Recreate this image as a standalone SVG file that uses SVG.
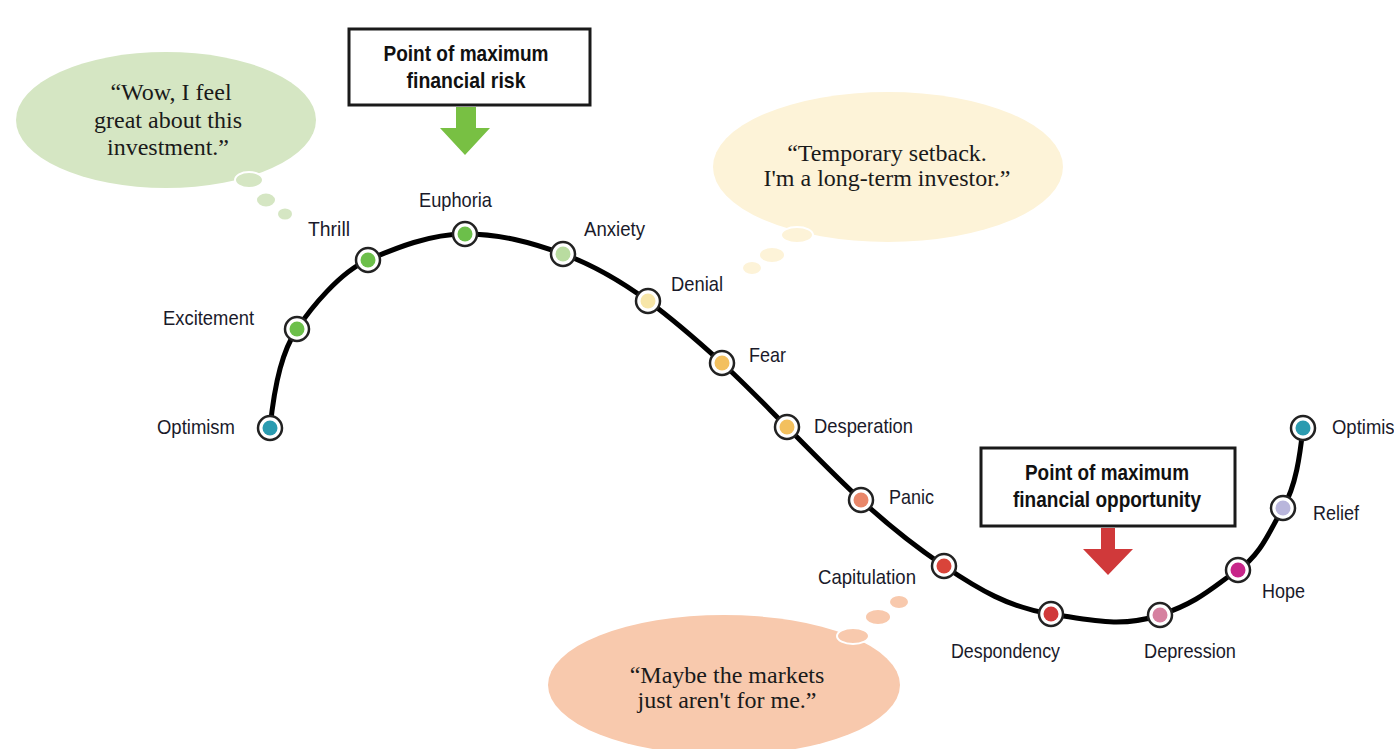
<svg xmlns="http://www.w3.org/2000/svg" width="1394" height="749" viewBox="0 0 1394 749">
<style>
.lbl{font-family:"Liberation Sans",Arial,sans-serif;font-size:21px;fill:#1a1a2a}
.box{fill:#fff;stroke:#1a1a1a;stroke-width:3}
.btx{font-family:"Liberation Sans",Arial,sans-serif;font-size:22px;font-weight:bold;fill:#111;text-anchor:middle}
.q{font-family:"Liberation Serif","Times New Roman",serif;font-size:24px;fill:#1a1a1a;text-anchor:middle}
.ring{fill:#fff;stroke:#222;stroke-width:2.5}
.puff{stroke:#fff;stroke-width:2}
</style>
<rect width="1394" height="749" fill="#fff"/>

<g id="bubble-green">
<ellipse cx="166" cy="120" rx="150" ry="68" fill="#d5e6c3"/>
<ellipse class="puff" cx="249" cy="180" rx="14" ry="8" fill="#d5e6c3"/>
<ellipse cx="266" cy="200" rx="9" ry="6.5" fill="#d5e6c3"/>
<ellipse cx="285" cy="214" rx="7" ry="5.5" fill="#d5e6c3"/>
<text class="q" x="171" y="100">“Wow, I feel</text>
<text class="q" x="168" y="128">great about this</text>
<text class="q" x="168" y="155">investment.”</text>
</g>

<g id="bubble-yellow">
<ellipse cx="888" cy="167" rx="175" ry="75" fill="#fdf3d8"/>
<ellipse class="puff" cx="797" cy="235" rx="16" ry="8" fill="#fdf3d8"/>
<ellipse cx="772" cy="255" rx="12" ry="7" fill="#fdf3d8"/>
<ellipse cx="752" cy="268" rx="9" ry="6" fill="#fdf3d8"/>
<text class="q" x="887" y="161">“Temporary setback.</text>
<text class="q" x="887" y="186">I'm a long-term investor.”</text>
</g>

<g id="bubble-peach">
<ellipse cx="724" cy="685" rx="176" ry="70" fill="#f8c9ad"/>
<ellipse class="puff" cx="853" cy="636" rx="16" ry="8" fill="#f8c9ad"/>
<ellipse cx="878" cy="617" rx="12" ry="7" fill="#f8c9ad"/>
<ellipse cx="899" cy="602" rx="9" ry="6" fill="#f8c9ad"/>
<text class="q" x="727" y="683">“Maybe the markets</text>
<text class="q" x="727" y="708">just aren't for me.”</text>
</g>

<g id="box-risk">
<rect class="box" x="349" y="29" width="241" height="76"/>
<text class="btx" x="466" y="61" textLength="165" lengthAdjust="spacingAndGlyphs">Point of maximum</text>
<text class="btx" x="466" y="88" textLength="119" lengthAdjust="spacingAndGlyphs">financial risk</text>
<path d="M456,107 H476 V128 H490 L465,155 L440,128 H456 Z" fill="#78c043"/>
</g>

<g id="box-opportunity">
<rect class="box" x="981" y="448" width="254" height="78"/>
<text class="btx" x="1107" y="480" textLength="164" lengthAdjust="spacingAndGlyphs">Point of maximum</text>
<text class="btx" x="1107" y="507" textLength="188" lengthAdjust="spacingAndGlyphs">financial opportunity</text>
<path d="M1101,528 H1115 V549 H1133 L1108,575 L1083,549 H1101 Z" fill="#d0393a"/>
</g>

<g id="connectors">
<path d="M270,428 C275,380 283,350 297,329 S340,272 368,260 S430,234 465,234 S530,242 563,254 S622,282 648,301 S700,343 722,363 S765,405 787,427 S835,476 861,500 S910,543 944,566 S1010,608 1051,614 S1120,628 1160,615 S1215,585 1238,570 S1270,530 1283,508 S1300,455 1303,428" fill="none" stroke="#000" stroke-width="5"/>
</g>

<g id="n-optimism1"><circle class="ring" cx="270" cy="428" r="12"/><circle cx="270" cy="428" r="7.5" fill="#2a9bb0"/><text class="lbl" x="157" y="434" textLength="78" lengthAdjust="spacingAndGlyphs">Optimism</text></g>
<g id="n-excitement"><circle class="ring" cx="297" cy="329" r="12"/><circle cx="297" cy="329" r="7.5" fill="#6cbf4a"/><text class="lbl" x="163" y="325" textLength="91" lengthAdjust="spacingAndGlyphs">Excitement</text></g>
<g id="n-thrill"><circle class="ring" cx="368" cy="260" r="12"/><circle cx="368" cy="260" r="7.5" fill="#6cbf4a"/><text class="lbl" x="308" y="236" textLength="42" lengthAdjust="spacingAndGlyphs">Thrill</text></g>
<g id="n-euphoria"><circle class="ring" cx="465" cy="234" r="12"/><circle cx="465" cy="234" r="7.5" fill="#6cbf4a"/><text class="lbl" x="419" y="207" textLength="73" lengthAdjust="spacingAndGlyphs">Euphoria</text></g>
<g id="n-anxiety"><circle class="ring" cx="563" cy="254" r="12"/><circle cx="563" cy="254" r="7.5" fill="#b9dca0"/><text class="lbl" x="584" y="236" textLength="61" lengthAdjust="spacingAndGlyphs">Anxiety</text></g>
<g id="n-denial"><circle class="ring" cx="648" cy="301" r="12"/><circle cx="648" cy="301" r="7.5" fill="#f7e6a8"/><text class="lbl" x="671" y="291" textLength="52" lengthAdjust="spacingAndGlyphs">Denial</text></g>
<g id="n-fear"><circle class="ring" cx="722" cy="363" r="12"/><circle cx="722" cy="363" r="7.5" fill="#f3c05e"/><text class="lbl" x="749" y="362" textLength="37" lengthAdjust="spacingAndGlyphs">Fear</text></g>
<g id="n-desperation"><circle class="ring" cx="787" cy="427" r="12"/><circle cx="787" cy="427" r="7.5" fill="#f3c05e"/><text class="lbl" x="814" y="433" textLength="99" lengthAdjust="spacingAndGlyphs">Desperation</text></g>
<g id="n-panic"><circle class="ring" cx="861" cy="500" r="12"/><circle cx="861" cy="500" r="7.5" fill="#e9876a"/><text class="lbl" x="889" y="504" textLength="45" lengthAdjust="spacingAndGlyphs">Panic</text></g>
<g id="n-capitulation"><circle class="ring" cx="944" cy="566" r="12"/><circle cx="944" cy="566" r="7.5" fill="#d9443a"/><text class="lbl" x="818" y="584" textLength="98" lengthAdjust="spacingAndGlyphs">Capitulation</text></g>
<g id="n-despondency"><circle class="ring" cx="1051" cy="614" r="12"/><circle cx="1051" cy="614" r="7.5" fill="#d0393a"/><text class="lbl" x="951" y="658" textLength="109" lengthAdjust="spacingAndGlyphs">Despondency</text></g>
<g id="n-depression"><circle class="ring" cx="1160" cy="615" r="12"/><circle cx="1160" cy="615" r="7.5" fill="#d681a0"/><text class="lbl" x="1144" y="658" textLength="92" lengthAdjust="spacingAndGlyphs">Depression</text></g>
<g id="n-hope"><circle class="ring" cx="1238" cy="570" r="12"/><circle cx="1238" cy="570" r="7.5" fill="#c8268a"/><text class="lbl" x="1262" y="598" textLength="43" lengthAdjust="spacingAndGlyphs">Hope</text></g>
<g id="n-relief"><circle class="ring" cx="1283" cy="508" r="12"/><circle cx="1283" cy="508" r="7.5" fill="#b9b6dc"/><text class="lbl" x="1313" y="520" textLength="46" lengthAdjust="spacingAndGlyphs">Relief</text></g>
<g id="n-optimism2"><circle class="ring" cx="1303" cy="428" r="12"/><circle cx="1303" cy="428" r="7.5" fill="#2a9bb0"/><text class="lbl" x="1332" y="434" textLength="78" lengthAdjust="spacingAndGlyphs">Optimism</text></g>
</svg>
